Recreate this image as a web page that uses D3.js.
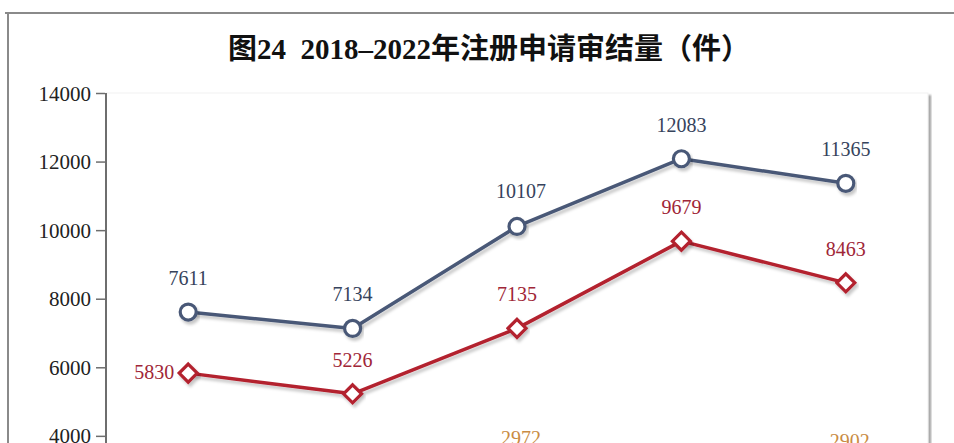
<!DOCTYPE html>
<html>
<head>
<meta charset="utf-8">
<script src="https://cdn.jsdelivr.net/npm/d3@7/dist/d3.min.js"></script>
<style>
  html, body { margin: 0; padding: 0; background: #fff; overflow: hidden; }
  svg { display: block; }
</style>
</head>
<body>
<svg id="chart" width="954" height="640"></svg>
<script>
// ---- data ----
const years = ["2018", "2019", "2020", "2021", "2022"];
const seriesA = [7611, 7134, 10107, 12083, 11365];   // blue, circles
const seriesB = [5830, 5226, 7135, 9679, 8463];      // red, diamonds
const seriesC = [2080, 1908, 2972, 2594, 2902];      // orange (mostly cropped; partly estimated)
const yTicks = [0, 2000, 4000, 6000, 8000, 10000, 12000, 14000];
const title = "图24  2018–2022年注册申请审结量（件）";

// ---- layout ----
const svg = d3.select("#chart");
const plot = { left: 106, right: 928, top: 93, bottom: 573 };

const x = d3.scalePoint().domain(years).range([plot.left, plot.right]).padding(0.5);
const y = d3.scaleLinear().domain([0, 14000]).range([plot.bottom, plot.top]);

const defs = svg.append("defs");
const sh = defs.append("filter").attr("id", "shadow").attr("x", "-10%").attr("y", "-20%").attr("width", "130%").attr("height", "160%");
sh.append("feDropShadow").attr("dx", 2).attr("dy", 3).attr("stdDeviation", 1.6)
  .attr("flood-color", "#000").attr("flood-opacity", 0.22);
const ps = defs.append("filter").attr("id", "pshadow").attr("x", "-5%").attr("y", "-5%").attr("width", "110%").attr("height", "110%");
ps.append("feGaussianBlur").attr("stdDeviation", 1.2);

// outer frame
svg.append("line").attr("x1", 5).attr("x2", 954).attr("y1", 13).attr("y2", 13)
  .attr("stroke", "#8a8a8a").attr("stroke-width", 2);
svg.append("line").attr("x1", 8).attr("x2", 8).attr("y1", 12).attr("y2", 640)
  .attr("stroke", "#8a8a8a").attr("stroke-width", 2);

// title
svg.append("text").attr("x", 489).attr("y", 59).attr("text-anchor", "middle")
  .attr("font-family", "'Liberation Serif', 'Noto Sans CJK SC', serif")
  .attr("font-weight", "bold").attr("font-size", 29).attr("fill", "#111")
  .attr("xml:space", "preserve")
  .text(title);

// plot panel with shadow on the right
svg.append("rect").attr("x", plot.right).attr("y", plot.top + 2).attr("width", 3).attr("height", plot.bottom - plot.top)
  .attr("fill", "#9a9a9a").attr("filter", "url(#pshadow)");
svg.append("rect").attr("x", plot.left).attr("y", plot.top).attr("width", plot.right - plot.left).attr("height", plot.bottom - plot.top)
  .attr("fill", "#fff").attr("stroke", "#f1f1f1").attr("stroke-width", 1);

// y axis
const yAxis = d3.axisLeft(y).tickValues(yTicks).tickSize(10).tickPadding(5).tickFormat(d3.format("d"));
const ga = svg.append("g").attr("transform", `translate(${plot.left},0)`).call(yAxis);
ga.select(".domain").attr("stroke", "#6e6e6e").attr("stroke-width", 2).attr("d", `M0,${plot.top}V${plot.bottom}`);
ga.selectAll(".tick line").attr("stroke", "#6e6e6e").attr("stroke-width", 1.5).attr("x1", -1).attr("x2", -10);
ga.selectAll(".tick text").attr("font-family", "'Liberation Serif', serif").attr("font-size", 21).attr("fill", "#222")
  .attr("dy", "0.34em").attr("x", -15);

// x axis (below the visible window)
const xAxis = d3.axisBottom(x).tickSize(0).tickPadding(10);
const gx = svg.append("g").attr("transform", `translate(0,${plot.bottom})`).call(xAxis);
gx.select(".domain").attr("stroke", "#6e6e6e").attr("stroke-width", 2);
gx.selectAll(".tick text").attr("font-family", "'Liberation Serif', serif").attr("font-size", 21).attr("fill", "#222");

const line = d3.line().x((d, i) => x(years[i])).y(d => y(d));

function drawSeries(values, color, labelColor, shape, labelOffsets) {
  const g = svg.append("g");
  g.append("path").datum(values).attr("d", line).attr("fill", "none")
    .attr("stroke", color).attr("stroke-width", 3.5).attr("stroke-linejoin", "round")
    .attr("filter", "url(#shadow)");
  const pts = g.selectAll("g.pt").data(values).enter().append("g")
    .attr("transform", (d, i) => `translate(${x(years[i])},${y(d)})`);
  if (shape === "circle") {
    pts.append("circle").attr("r", 8).attr("fill", "#fff").attr("stroke", color).attr("stroke-width", 3.2)
      .attr("filter", "url(#shadow)");
  } else if (shape === "diamond") {
    pts.append("path").attr("d", "M0,-9L9,0L0,9L-9,0Z").attr("fill", "#fff").attr("stroke", color)
      .attr("stroke-width", 3.2).attr("filter", "url(#shadow)");
  } else {
    pts.append("path").attr("d", "M0,-9L8,6L-8,6Z").attr("fill", "#fff").attr("stroke", color)
      .attr("stroke-width", 3.2).attr("filter", "url(#shadow)");
  }
  g.selectAll("text.lbl").data(values).enter().append("text")
    .attr("x", (d, i) => x(years[i]) + labelOffsets[i][0])
    .attr("y", (d, i) => y(d) + labelOffsets[i][1])
    .attr("text-anchor", (d, i) => labelOffsets[i][2] || "middle")
    .attr("font-family", "'Liberation Serif', serif").attr("font-size", 20).attr("fill", labelColor)
    .text(d => d);
}

const up = [0, -27];
drawSeries(seriesC, "#e8a23c", "#c98b43", "triangle", [up, up, [4, -26], [4, -26], [4, -26]]);
drawSeries(seriesB, "#b3202f", "#a02637", "diamond", [[-14, 6, "end"], up, up, up, up]);
drawSeries(seriesA, "#4a5977", "#36435c", "circle", [up, up, [4, -28], up, up]);
</script>
</body>
</html>
